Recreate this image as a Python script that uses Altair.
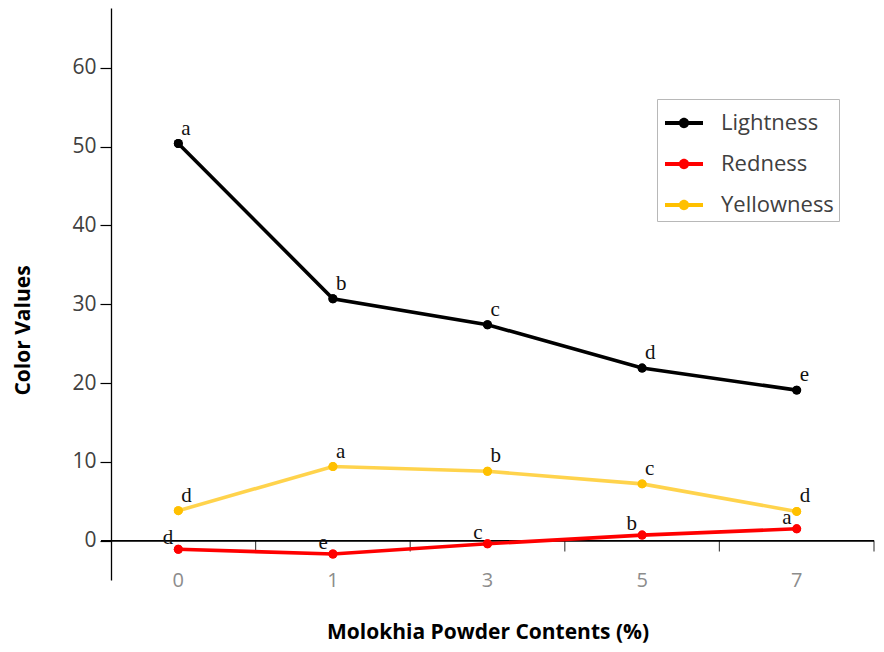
import altair as alt
import pandas as pd

contents = ["0", "1", "3", "5", "7"]
series_names = ["Lightness", "Redness", "Yellowness"]
lightness = [50.4, 30.7, 27.4, 21.9, 19.1]
redness = [-1.1, -1.7, -0.4, 0.7, 1.5]
yellowness = [3.8, 9.4, 8.8, 7.2, 3.7]
letters_l = ["a", "b", "c", "d", "e"]
letters_r = ["d", "e", "c", "b", "a"]
letters_y = ["d", "a", "b", "c", "d"]
colors = ["#000000", "#FF0000", "#FFC000"]
y_ticks = [0, 10, 20, 30, 40, 50, 60]

rows = []
for name, vals, lets in zip(series_names, [lightness, redness, yellowness],
                            [letters_l, letters_r, letters_y]):
    for c, v, l in zip(contents, vals, lets):
        rows.append({"content": c, "value": v, "series": name, "letter": l})
df = pd.DataFrame(rows)
base_df = pd.DataFrame({"content": contents})

SANS = "Open Sans"
SERIF = "Liberation Serif"

x_axis = alt.Axis(domain=False, ticks=False, labelColor="#8c8c8c", labelFontSize=20,
                  labelFont=SANS, labelAngle=0, labelBaseline="middle", labelPadding=0,
                  title="Molokhia Powder Contents (%)", titleFont=SANS, titleFontSize=21,
                  titleFontWeight="bold", titleColor="#000", titleY=52,
                  titleBaseline="middle", grid=False)
x_scale = alt.Scale(type="band", domain=contents, paddingInner=0, paddingOuter=0)

y_scale = alt.Scale(domain=[-5, 67.6], nice=False, zero=False)
y_axis = alt.Axis(values=y_ticks, offset=-10, tickSize=11, tickColor="#000", tickWidth=1.2,
                  domainColor="#000", domainWidth=1.3, labelFont=SANS, labelFontSize=21,
                  labelColor="#404040", labelPadding=4, grid=False,
                  title="Color Values", titleFont=SANS, titleFontSize=21,
                  titleFontWeight="bold", titleColor="#000", titleAngle=-90,
                  titleX=-88, titleY=322, titleBaseline="middle", titleAlign="center")

X = alt.X("content:N", scale=x_scale, axis=x_axis, sort=contents, bandPosition=0.5)
Y = alt.Y("value:Q", scale=y_scale, axis=y_axis)

sym_path = ("M-1,-0.1L1,-0.1L1,0.1L-1,0.1Z "
            "M0.27,0A0.27,0.27 0 1,1 -0.27,0A0.27,0.27 0 1,1 0.27,0Z")

color = alt.Color(
    "series:N",
    scale=alt.Scale(domain=series_names, range=colors),
    legend=alt.Legend(
        orient="none", legendX=556, legendY=91, title=None,
        symbolType=sym_path, symbolSize=1444, symbolStrokeWidth=0,
        symbolOffset=3, labelOffset=18, rowPadding=11, padding=5,
        labelFont=SANS, labelFontSize=22, labelColor="#404040",
        strokeColor="#b8b8b8", fillColor="#ffffff",
    ),
)

zero_line = alt.Chart(base_df).mark_rule(color="#000", strokeWidth=1.3).encode(
    y=alt.datum(0, scale=y_scale)
)

ticks = alt.Chart(base_df).mark_tick(orient="vertical", size=11, thickness=1.2,
                                     yOffset=5.5, color="#000").encode(
    x=alt.X("content:N", scale=x_scale, axis=x_axis, sort=contents, bandPosition=1),
    y=alt.datum(0),
)

points = alt.Chart(df).mark_circle(size=80, opacity=1).encode(
    x=X, y=Y, color=color,
)

lines = alt.Chart(df).mark_line(strokeWidth=3.6).encode(
    x=X, y=Y, color=color,
    opacity=alt.condition(alt.datum.series == "Yellowness", alt.value(0.7), alt.value(1)),
    detail="series:N",
)

text_left = alt.Chart(df).transform_filter(
    alt.datum.series != "Redness"
).mark_text(align="left", baseline="alphabetic", dx=3, dy=-9, font=SERIF,
            fontSize=21, color="#111").encode(x=X, y=Y, text="letter:N")

text_right = alt.Chart(df).transform_filter(
    alt.datum.series == "Redness"
).mark_text(align="right", baseline="alphabetic", dx=-5, dy=-5, font=SERIF,
            fontSize=21, color="#111").encode(x=X, y=Y, text="letter:N")

chart = alt.layer(zero_line, ticks, points, lines, points, text_left, text_right).properties(
    width=773, height=572,
    padding={"left": 93, "top": 0, "right": 2, "bottom": 64},
    autosize=alt.AutoSizeParams(type="none"),
).configure(background="#ffffff").configure_view(stroke=None).configure_axis(grid=False)

chart.save("out.html", embed_options={"renderer": "svg", "actions": False})
